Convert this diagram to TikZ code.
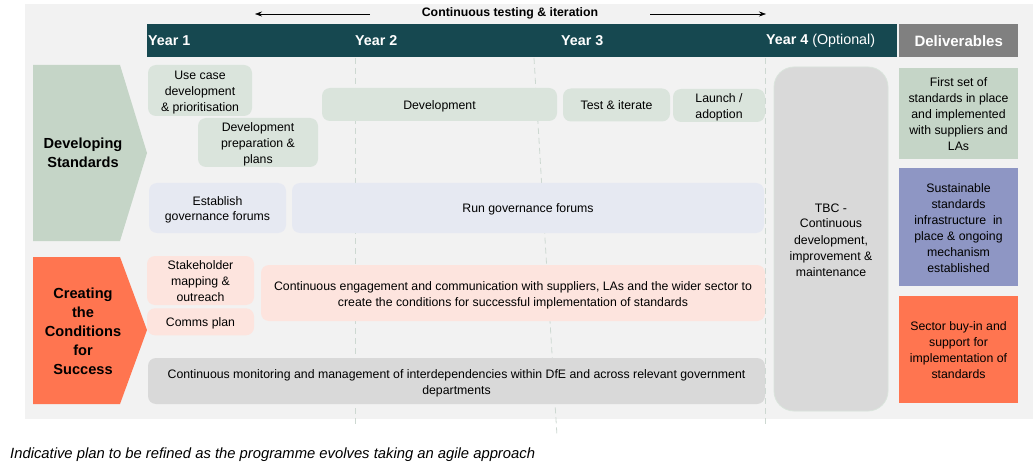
\documentclass[tikz,border=0pt]{standalone}
\usepackage{fontspec}
\setmainfont{Liberation Sans}
\usetikzlibrary{arrows.meta}

\definecolor{panelgray}{RGB}{242,242,242}
\definecolor{hdrteal}{RGB}{22,72,80}
\definecolor{hdrgray}{RGB}{128,128,128}
\definecolor{sage}{RGB}{197,213,199}
\definecolor{coral}{RGB}{255,117,80}
\definecolor{peri}{RGB}{142,150,196}
\definecolor{boxgreen}{RGB}{218,228,220}
\definecolor{boxblue}{RGB}{230,233,242}
\definecolor{boxpink}{RGB}{253,228,222}
\definecolor{boxgray}{RGB}{217,217,217}
\definecolor{gridline}{RGB}{205,216,209}

% fixed height of the first text line, so all boxes centre their text alike
\newcommand{\ts}{\rule{0pt}{13pt}}

\begin{document}
\begin{tikzpicture}[x=1pt,y=-1pt,
  txt/.style={font=\fontsize{12.3}{16}\selectfont},
  lastdepth/.style={execute at end node={\rule[-3pt]{0pt}{0pt}}},
  box/.style={txt, lastdepth, rounded corners=8pt, inner sep=0pt, align=center},
  deliv/.style={txt, lastdepth, inner sep=0pt, align=center, minimum width=119pt},
  yearlbl/.style={anchor=west, inner sep=0pt, text=white, font=\fontsize{14.3}{17}\selectfont\bfseries},
  phase/.style={align=center, inner sep=0pt, font=\fontsize{14.6}{19}\selectfont\bfseries},
  gridln/.style={gridline, line width=0.8pt, dash pattern=on 6pt off 4pt},
  iterarrow/.style={line width=0.6pt, -{Stealth[length=7pt,width=5pt]}}
]
\useasboundingbox (0,0) rectangle (1033,473);
\fill[white] (0,0) rectangle (1033,473);
\fill[panelgray] (25,4) rectangle (1033,419);

% title with iteration arrows
\node[txt, font=\fontsize{12.3}{16}\selectfont\bfseries, inner sep=0pt] (title) at (510,13) {Continuous testing \& iteration};
\coordinate (lstart) at (370,14);
\coordinate (lend) at (255,14);
\coordinate (rstart) at (650,14);
\coordinate (rend) at (766,14);
\draw[iterarrow] (lstart) -- (lend);
\draw[iterarrow] (rstart) -- (rend);

% header bar
\node[fill=hdrteal, inner sep=0pt, minimum width=750pt, minimum height=33pt, anchor=north west] (hdr) at (147,24) {};
\node[fill=hdrgray, inner sep=0pt, minimum width=119pt, minimum height=33pt, anchor=north west] (delhdr) at (899,24) {};
\node[yearlbl] (y1) at (148,40.5) {Year 1};
\node[yearlbl] (y2) at (355,40.5) {Year 2};
\node[yearlbl] (y3) at (561,40.5) {Year 3};
\node[yearlbl] (y4) at (766,40.5) {Year 4 \mdseries(Optional)};
\node[yearlbl, anchor=center, font=\fontsize{15}{17}\selectfont\bfseries] (dl) at (delhdr.center) {Deliverables};

% year division lines
\draw[gridln] (355,58) -- (355,425);
\draw[gridln] (534,58) -- (557,436);
\draw[gridln] (765,58) -- (765,424);

% phase labels
\fill[sage] (33,65) -- (120,65) -- (147,153) -- (120,241) -- (33,241) -- cycle;
\node[phase] (devstd) at (83,153) {Developing\\Standards};
\fill[coral] (33,257) -- (120,257) -- (147,330) -- (120,404) -- (33,404) -- cycle;
\node[phase] (ccs) at (83,331) {Creating\\the\\Conditions\\for\\Success};

% developing standards activities
\node[box, fill=boxgreen, minimum width=104pt, minimum height=51pt] (usecase) at (200,90.5) {\ts Use case\\development\\\& prioritisation};
\node[box, fill=boxgreen, minimum width=120pt, minimum height=49pt] (devprep) at (258,142.5) {\ts Development\\preparation \&\\plans};
\node[box, fill=boxgreen, minimum width=235pt, minimum height=33pt] (dev) at (439.5,104.5) {\ts Development};
\node[box, fill=boxgreen, minimum width=107pt, minimum height=33pt] (test) at (616.5,105) {\ts Test \& iterate};
\node[box, fill=boxgreen, minimum width=92pt, minimum height=33pt] (launch) at (719,105.5) {\ts Launch /\\adoption};
\node[box, fill=boxblue, minimum width=137pt, minimum height=50pt] (estab) at (217.5,208) {\ts Establish\\governance forums};
\node[box, fill=boxblue, minimum width=472pt, minimum height=50pt] (rungov) at (528,208) {\ts Run governance forums};

% conditions for success activities
\node[box, fill=boxpink, minimum width=107pt, minimum height=49pt] (stake) at (200.5,280.5) {\ts Stakeholder\\mapping \&\\outreach};
\node[box, fill=boxpink, minimum width=107pt, minimum height=27pt] (comms) at (200.5,321.8) {\ts Comms plan};
\node[box, fill=boxpink, minimum width=504pt, minimum height=56pt] (engage) at (513,293) {\ts Continuous engagement and communication with suppliers, LAs and the wider sector to\\create the conditions for successful implementation of standards};
\node[box, fill=boxgray, minimum width=617pt, minimum height=46pt] (monitor) at (456.5,381) {\ts Continuous monitoring and management of interdependencies within DfE and across relevant government\\departments};

% year 4
\node[box, fill=boxgray, draw=boxgreen, line width=0.8pt, rounded corners=20pt, minimum width=114pt, minimum height=344pt] (tbc) at (831,239) {\ts TBC -\\Continuous\\development,\\improvement \&\\maintenance};

% deliverables
\node[deliv, fill=sage, minimum height=91pt] (del1) at (958.5,113.5) {\ts First set of\\standards in place\\and implemented\\with suppliers and\\LAs};
\node[deliv, fill=peri, minimum height=118pt] (del2) at (958.5,227) {\ts Sustainable\\standards\\infrastructure\ \ in\\place \& ongoing\\mechanism\\established};
\node[deliv, fill=coral, minimum height=107pt] (del3) at (958.5,349.5) {\ts Sector buy-in and\\support for\\implementation of\\standards};

% footnote
\node[anchor=west, inner sep=0pt, font=\fontsize{14.8}{18}\selectfont\itshape] (note) at (10,455) {Indicative plan to be refined as the programme evolves taking an agile approach};
\end{tikzpicture}
\end{document}
